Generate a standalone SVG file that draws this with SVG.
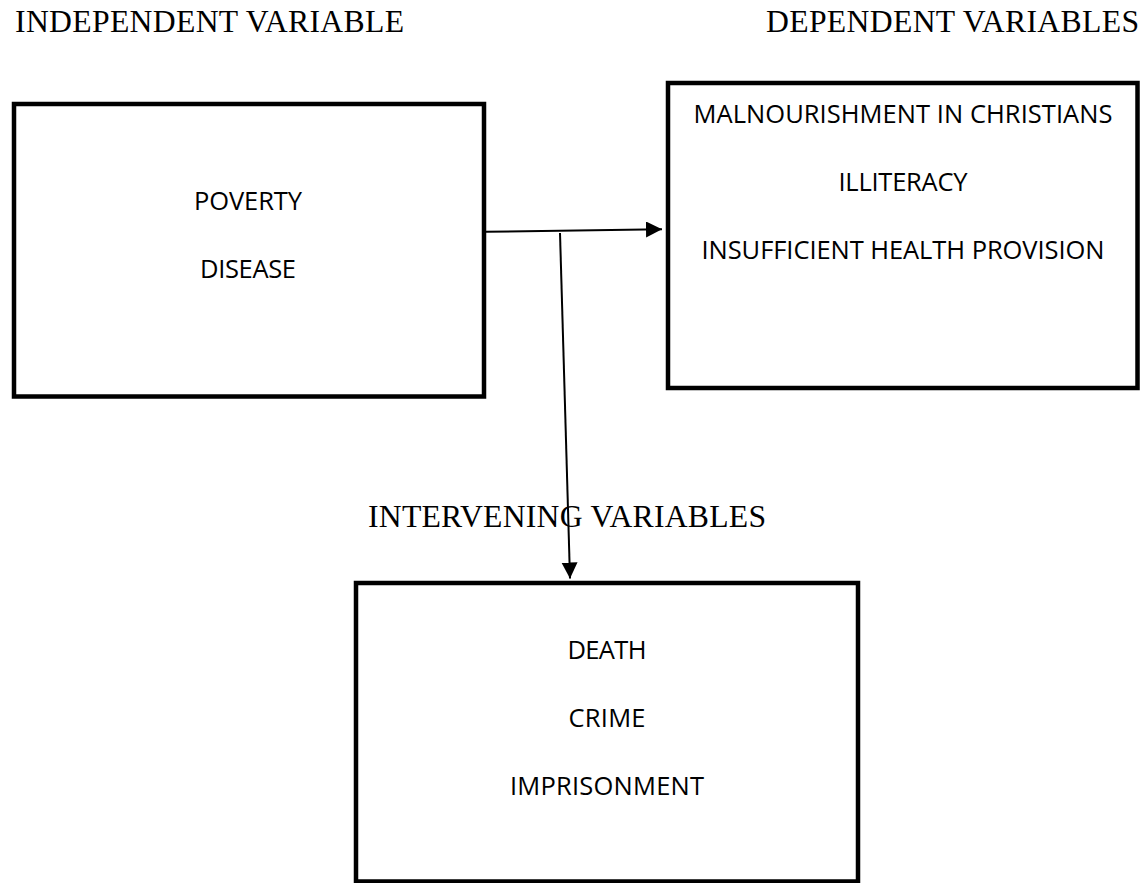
<svg xmlns="http://www.w3.org/2000/svg" width="1145" height="883" viewBox="0 0 1145 883">
  <style>
    .box { fill: #ffffff; stroke: #000000; stroke-width: 4.5; }
    .title { font-family: "Liberation Serif", "Times New Roman", serif; font-size: 31.7px; fill: #000000; }
    .item { font-family: "Open Sans", "Noto Sans", sans-serif; font-size: 25.5px; fill: #000000; text-anchor: middle; }
    .conn { stroke: #000000; stroke-width: 2; fill: none; }
  </style>
  <defs>
    <marker id="arrow" markerUnits="userSpaceOnUse" markerWidth="17" markerHeight="17" refX="16" refY="8" orient="auto">
      <path d="M0,0 L16,8 L0,16 Z" fill="#000000"/>
    </marker>
  </defs>
  <rect width="1145" height="883" fill="#ffffff"/>

  <g id="title-independent">
    <text class="title" x="15" y="32.3" textLength="389">INDEPENDENT VARIABLE</text>
  </g>
  <g id="title-dependent">
    <text class="title" x="766" y="32.3" textLength="373">DEPENDENT VARIABLES</text>
  </g>
  <g id="title-intervening">
    <text class="title" x="368" y="527" textLength="398">INTERVENING VARIABLES</text>
  </g>

  <g id="node-independent">
    <rect class="box" x="14" y="104" width="470" height="292.5"/>
    <text class="item" x="248" y="210" textLength="108">POVERTY</text>
    <text class="item" x="248" y="278" textLength="96">DISEASE</text>
  </g>

  <g id="node-dependent">
    <rect class="box" x="668" y="83" width="469.5" height="305"/>
    <text class="item" x="903" y="122.7" textLength="419">MALNOURISHMENT IN CHRISTIANS</text>
    <text class="item" x="903" y="190.7" textLength="129">ILLITERACY</text>
    <text class="item" x="903" y="259" textLength="403">INSUFFICIENT HEALTH PROVISION</text>
  </g>

  <g id="node-intervening">
    <rect class="box" x="356" y="583" width="502" height="298.5"/>
    <text class="item" x="607" y="659" textLength="79">DEATH</text>
    <text class="item" x="607" y="726.7" textLength="77">CRIME</text>
    <text class="item" x="607" y="795" textLength="194">IMPRISONMENT</text>
  </g>

  <g id="connectors">
    <line class="conn" x1="486" y1="231.8" x2="662" y2="229.3" marker-end="url(#arrow)"/>
    <line class="conn" x1="560" y1="233" x2="570" y2="578.5" marker-end="url(#arrow)"/>
  </g>
</svg>
